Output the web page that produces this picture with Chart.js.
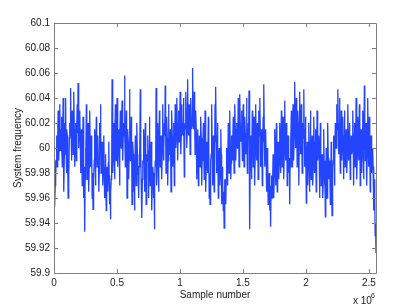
<!DOCTYPE html>
<html>
<head>
<meta charset="utf-8">
<script src="https://cdn.jsdelivr.net/npm/chart.js@4"></script>
<style>
  body { margin: 0; background: #fff; }
  canvas { display: block; }
</style>
</head>
<body>
<canvas id="freqChart" width="415" height="308"></canvas>
<script>
// System frequency readings from left to right
const freq = [
  59.99, 59.98, 59.953, 59.97, 59.975, 59.99, 60.01, 59.995, 59.985, 60.012, 60.03, 60.005, 59.99, 60.018, 60.035, 59.998, 60.0, 60.015, 60.025, 60.002, 59.985, 60.01, 60.04, 60.008,
  59.965, 59.995, 60.02, 60.012, 60.04, 60.0, 59.98, 60.015, 60.01, 59.992, 59.96, 59.99, 59.975, 60.008, 60.02, 60.01, 60.048, 60.02, 59.99, 60.004, 60.03, 60.015, 59.995, 60.0,
  60.045, 60.015, 59.985, 60.005, 60.02, 60.01, 59.99, 60.02, 60.035, 60.012, 60.052, 60.018, 60.0, 60.025, 60.03, 60.008, 59.98, 60.0, 60.015, 59.995, 59.97, 59.99, 60.025, 60.005,
  59.96, 59.985, 59.933, 59.975, 60.0, 59.99, 60.035, 60.01, 59.975, 59.995, 60.02, 60.005, 59.965, 59.985, 60.03, 60.008, 59.985, 59.998, 60.01, 59.99, 59.96, 59.98, 59.951, 59.972,
  59.975, 59.99, 60.015, 60.0, 59.97, 59.985, 60.025, 60.005, 59.985, 59.995, 60.01, 59.99, 59.965, 59.98, 60.02, 60.002, 60.035, 60.01, 59.98, 59.992, 60.005, 59.998, 59.97, 59.985,
  60.01, 59.985, 59.96, 59.975, 59.995, 59.97, 59.95, 59.98, 59.985, 59.972, 59.965, 59.988, 60.005, 59.978, 59.955, 59.968, 59.943, 59.965, 59.975, 59.985, 60.055, 59.99, 59.98, 59.995,
  60.02, 60.0, 59.975, 60.01, 60.035, 59.995, 59.99, 60.015, 60.04, 60.005, 59.985, 60.012, 60.015, 59.998, 59.97, 60.008, 60.03, 60.002, 60.0, 60.018, 60.038, 60.005, 59.99, 60.01,
  60.02, 60.015, 60.058, 60.01, 59.985, 60.0, 60.03, 60.012, 59.96, 59.99, 60.015, 60.005, 59.975, 59.995, 60.047, 60.015, 59.99, 60.002, 60.025, 60.008, 59.955, 59.985, 60.005, 59.995,
  59.965, 59.98, 59.95, 59.975, 60.01, 59.99, 59.97, 59.985, 60.02, 59.995, 59.98, 59.978, 59.96, 59.985, 60.0, 59.992, 60.047, 59.998, 59.975, 59.97, 59.944, 59.975, 59.99, 59.988,
  60.015, 59.995, 59.965, 59.985, 60.02, 60.0, 59.955, 59.978, 59.995, 59.99, 60.01, 59.998, 59.96, 59.982, 60.025, 60.005, 59.97, 59.988, 60.005, 59.992, 59.95, 59.975, 59.985, 59.98,
  59.96, 59.975, 59.935, 59.97, 59.99, 59.985, 60.048, 60.005, 59.97, 59.99, 60.02, 59.998, 59.965, 59.985, 60.03, 60.002, 59.985, 59.995, 60.01, 59.99, 59.975, 59.998, 60.035, 60.005,
  59.99, 60.0, 60.02, 60.01, 60.05, 60.015, 59.98, 59.998, 60.025, 60.008, 59.97, 59.99, 60.035, 60.012, 59.995, 60.005, 60.015, 60.0, 59.965, 59.985, 60.03, 60.01, 59.985, 60.0,
  60.02, 60.01, 59.97, 60.0, 60.035, 60.018, 60.0, 60.012, 60.04, 60.02, 59.99, 60.008, 60.03, 60.015, 60.005, 60.02, 60.045, 60.025, 59.995, 60.012, 60.035, 60.02, 60.01, 60.018,
  60.04, 60.025, 59.977, 60.005, 60.02, 60.015, 60.045, 60.028, 60.0, 60.012, 60.055, 60.03, 60.01, 60.02, 60.035, 60.025, 59.995, 60.01, 60.04, 60.022, 60.015, 60.018, 60.064, 60.03,
  60.02, 60.015, 60.045, 60.02, 59.995, 60.005, 60.03, 60.012, 59.975, 59.99, 60.015, 60.002, 59.97, 59.985, 60.01, 60.0, 59.985, 59.995, 60.025, 60.008, 59.97, 59.99, 60.0, 59.998,
  60.02, 60.0, 59.975, 59.99, 60.03, 60.005, 59.965, 59.985, 60.005, 59.998, 59.98, 59.99, 60.025, 60.002, 59.96, 59.98, 59.955, 59.978, 59.99, 59.995, 60.035, 60.005, 59.97, 59.99,
  60.01, 59.995, 59.965, 59.985, 60.035, 60.005, 60.049, 60.01, 59.98, 59.992, 60.02, 60.0, 59.96, 59.985, 60.0, 59.99, 59.97, 59.982, 60.015, 59.995, 59.955, 59.975, 59.985, 59.97,
  59.95, 59.965, 59.936, 59.96, 59.975, 59.97, 59.955, 59.975, 60.0, 59.985, 59.97, 59.98, 60.02, 59.992, 59.98, 59.985, 60.03, 59.995, 59.975, 59.988, 60.01, 59.998, 59.99, 60.0,
  60.025, 60.01, 59.98, 60.002, 60.035, 60.015, 59.99, 60.005, 60.02, 60.012, 60.0, 60.008, 60.04, 60.02, 59.985, 60.005, 60.043, 60.018, 60.005, 60.01, 60.03, 60.015, 59.99, 60.005,
  60.035, 60.015, 59.985, 60.005, 60.025, 60.012, 59.995, 60.008, 60.04, 60.018, 59.98, 60.0, 60.02, 60.01, 60.046, 60.02, 59.935, 59.99, 60.01, 60.005, 59.975, 59.998, 60.03, 60.012,
  59.985, 60.0, 60.025, 60.01, 59.97, 59.995, 60.035, 60.012, 59.99, 60.002, 60.02, 60.008, 59.975, 59.995, 60.03, 60.01, 60.04, 60.015, 59.985, 60.0, 60.015, 60.005, 59.97, 59.99,
  60.025, 60.005, 60.051, 60.01, 59.985, 59.995, 60.015, 59.998, 59.965, 59.985, 60.0, 59.99, 59.955, 59.975, 59.975, 59.98, 59.95, 59.97, 59.937, 59.965, 59.97, 59.978, 59.96, 59.975,
  59.995, 59.985, 59.96, 59.978, 60.015, 59.995, 59.97, 59.985, 60.02, 60.0, 59.965, 59.982, 60.005, 59.992, 59.975, 59.988, 60.02, 60.0, 59.98, 59.99, 60.03, 60.005, 59.985, 59.995,
  60.025, 60.005, 59.975, 59.995, 60.038, 60.012, 59.99, 60.0, 60.02, 60.008, 59.97, 59.99, 60.01, 60.0, 59.98, 59.992, 59.955, 59.985, 60.0, 60.005, 60.03, 60.01, 59.985, 60.0,
  60.035, 60.015, 59.99, 60.01, 60.053, 60.025, 60.0, 60.012, 60.04, 60.02, 59.985, 60.005, 60.03, 60.018, 59.97, 60.0, 60.045, 60.02, 59.995, 60.01, 60.035, 60.015, 59.98, 60.002,
  60.02, 60.008, 60.047, 60.015, 59.985, 59.995, 60.025, 60.005, 59.956, 59.98, 60.005, 59.995, 59.97, 59.99, 60.02, 60.005, 59.965, 59.985, 60.03, 60.01, 59.975, 59.992, 60.01, 60.0,
  59.97, 59.99, 60.025, 60.005, 59.98, 59.992, 60.015, 60.0, 59.965, 59.985, 60.03, 60.008, 59.99, 59.998, 60.01, 59.995, 59.96, 59.98, 60.02, 59.998, 59.97, 59.985, 59.995, 59.99,
  59.96, 59.975, 60.015, 59.99, 59.97, 59.98, 59.945, 59.968, 60.0, 59.985, 59.96, 59.975, 60.02, 59.992, 59.975, 59.98, 59.99, 59.985, 59.955, 59.97, 60.005, 59.988, 59.946, 59.972,
  59.985, 59.99, 60.01, 59.998, 59.97, 59.99, 60.02, 60.005, 60.0, 60.008, 60.035, 60.015, 60.047, 60.02, 59.995, 60.01, 60.04, 60.015, 59.98, 60.0, 60.03, 60.012, 59.99, 60.005,
  60.025, 60.01, 59.975, 59.995, 60.03, 60.012, 59.985, 60.0, 60.015, 60.005, 59.98, 59.998, 60.035, 60.015, 59.99, 60.002, 60.02, 60.01, 59.975, 59.995, 60.01, 60.005, 59.995, 60.0,
  60.03, 60.012, 59.97, 59.995, 60.02, 60.008, 59.985, 60.0, 60.04, 60.015, 59.975, 59.995, 60.025, 60.01, 59.99, 60.002, 60.035, 60.012, 59.97, 59.99, 60.015, 60.005, 59.98, 59.998,
  60.03, 60.01, 59.975, 59.998, 60.05, 60.02, 59.99, 60.005, 60.02, 60.008, 59.97, 59.995, 60.04, 60.015, 59.985, 60.0, 60.025, 60.01, 59.965, 59.99, 60.01, 60.0, 59.98, 59.995,
  60.0, 59.985, 59.95, 59.97, 59.975, 59.96, 59.93, 59.94, 59.916
];
const lastSample = 2556000;

// tick positions
const xTicks = [0, 500000, 1000000, 1500000, 2000000, 2500000];
const yTicks = [59.9, 59.92, 59.94, 59.96, 59.98, 60, 60.02, 60.04, 60.06, 60.08, 60.1];

const points = freq.map((v, i) => ({ x: (i * lastSample) / (freq.length - 1), y: v }));

const textFont = { family: "'Liberation Sans', Arial, sans-serif", size: 10 };

// box round the plot with inward ticks on all four sides
const boxPlugin = {
  id: "box",
  afterDraw(chart) {
    const { ctx, chartArea: a, scales } = chart;
    ctx.save();
    ctx.strokeStyle = "#7f7f7f";
    ctx.lineWidth = 1;
    ctx.beginPath();
    ctx.rect(a.left + 0.5, a.top + 0.5, a.right - a.left, a.bottom - a.top);
    scales.x.ticks.forEach((t) => {
      const px = Math.round(scales.x.getPixelForValue(t.value)) + 0.5;
      ctx.moveTo(px, a.bottom);
      ctx.lineTo(px, a.bottom - 4);
      ctx.moveTo(px, a.top);
      ctx.lineTo(px, a.top + 4);
    });
    scales.y.ticks.forEach((t) => {
      const py = Math.round(scales.y.getPixelForValue(t.value)) + 0.5;
      ctx.moveTo(a.left, py);
      ctx.lineTo(a.left + 4, py);
      ctx.moveTo(a.right, py);
      ctx.lineTo(a.right - 4, py);
    });
    ctx.stroke();

    // exponent of the x axis
    ctx.fillStyle = "#222";
    ctx.font = "10px 'Liberation Sans', Arial, sans-serif";
    ctx.textBaseline = "alphabetic";
    ctx.textAlign = "left";
    ctx.fillText("x 10", 353, 304);
    ctx.font = "7px 'Liberation Sans', Arial, sans-serif";
    ctx.fillText("6", 371, 298);
    ctx.restore();
  },
};

new Chart(document.getElementById("freqChart"), {
  type: "line",
  data: {
    datasets: [
      {
        data: points,
        borderColor: "#2445ff",
        borderWidth: 1.3,
        pointRadius: 0,
        tension: 0,
        fill: false,
      },
    ],
  },
  options: {
    responsive: false,
    animation: false,
    devicePixelRatio: 1,
    layout: { padding: { left: 0, top: 23, right: 39, bottom: 0 } },
    plugins: { legend: { display: false }, tooltip: { enabled: false } },
    scales: {
      x: {
        type: "linear",
        min: 0,
        max: lastSample,
        grid: { display: false, drawTicks: false },
        border: { display: false },
        afterBuildTicks: (scale) => {
          scale.ticks = xTicks.map((v) => ({ value: v }));
        },
        afterFit: (scale) => {
          scale.height = 35;
        },
        ticks: {
          padding: 4,
          color: "#222",
          font: textFont,
          maxRotation: 0,
          callback: (v) => String(v / 1e6),
        },
        title: {
          display: true,
          text: "Sample number",
          color: "#222",
          font: textFont,
          padding: { top: 0, bottom: 7 },
        },
      },
      y: {
        min: 59.9,
        max: 60.1,
        grid: { display: false, drawTicks: false },
        border: { display: false },
        afterBuildTicks: (scale) => {
          scale.ticks = yTicks.map((v) => ({ value: v }));
        },
        afterFit: (scale) => {
          scale.width = 54;
        },
        ticks: {
          padding: 4,
          color: "#222",
          font: textFont,
          callback: (v) => String(Number(v.toFixed(2))),
        },
        title: {
          display: true,
          text: "System frequency",
          color: "#222",
          font: textFont,
          padding: { top: 12, bottom: 0 },
        },
      },
    },
  },
  plugins: [boxPlugin],
});
</script>
</body>
</html>
